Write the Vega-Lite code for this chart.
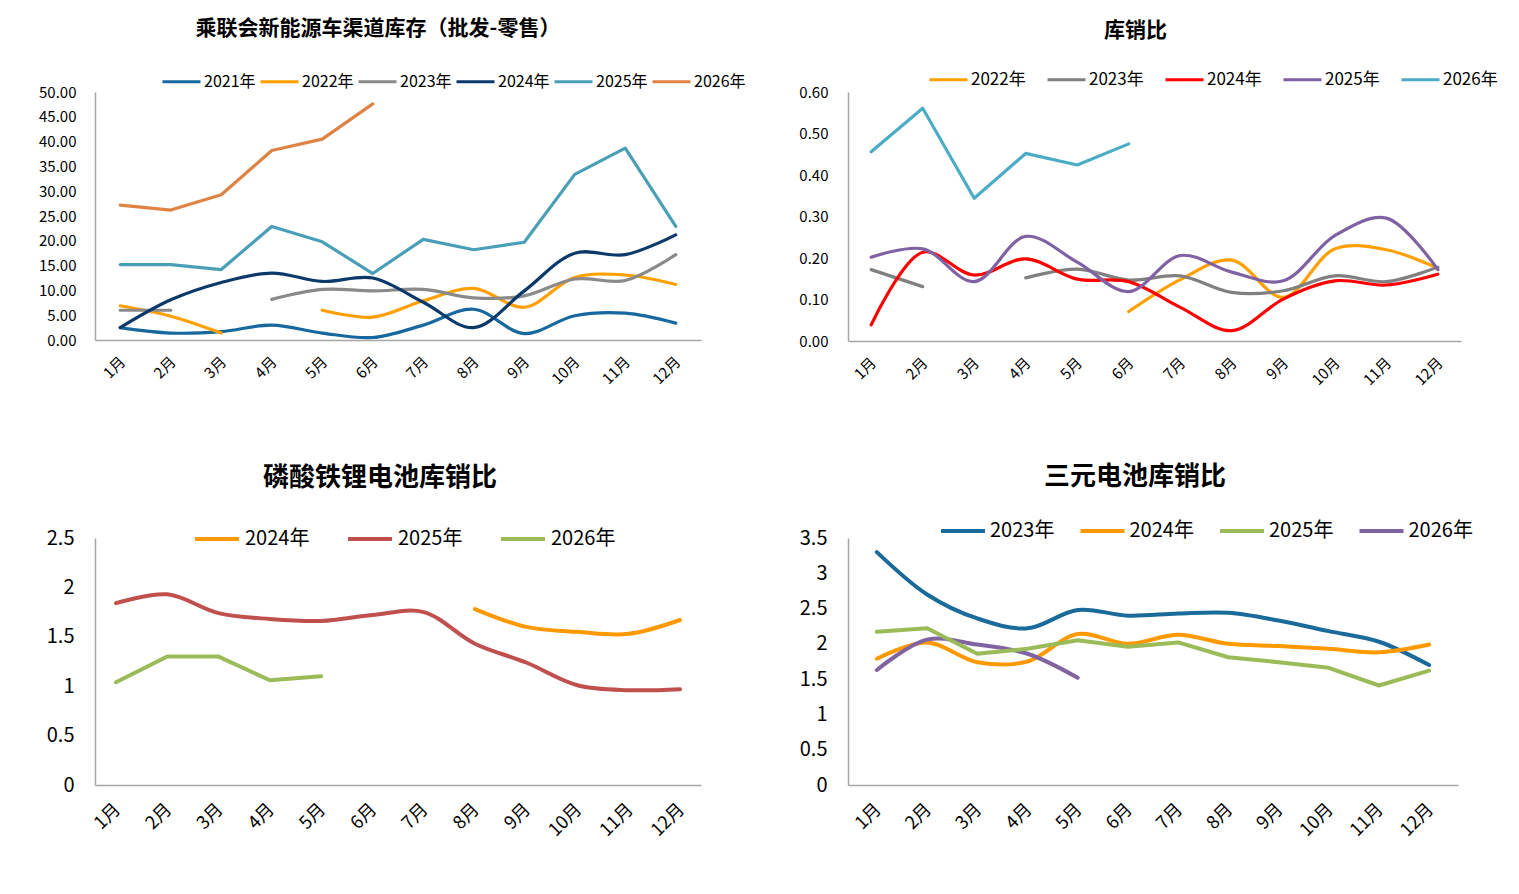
{
  "$schema": "https://vega.github.io/schema/vega-lite/v6.json",
  "background": "white",
  "padding": {"left": 38, "top": 18, "right": 10, "bottom": 10},
  "autosize": {"type": "pad"},
  "config": {
    "view": {"stroke": null},
    "font": "Noto Sans CJK SC",
    "axis": {"grid": false, "ticks": false, "domainColor": "#A6A6A6", "domainWidth": 1.5, "labelColor": "#000000", "title": null, "labelFont": "Noto Sans CJK SC"},
    "legend": {"labelFont": "Noto Sans CJK SC", "labelColor": "#000000", "padding": 0, "symbolType": "stroke", "title": null, "direction": "horizontal", "orient": "none"},
    "title": {"font": "Noto Sans CJK SC", "fontWeight": "bold", "color": "#000000", "anchor": "middle", "frame": "group"},
    "line": {"strokeCap": "round", "strokeJoin": "round"}
  },
  "datasets": {
    "p1": [
      {"m":"1月","y":"2021年","v":2.5,"s":"a"},{"m":"2月","y":"2021年","v":1.4,"s":"a"},{"m":"3月","y":"2021年","v":1.7,"s":"a"},{"m":"4月","y":"2021年","v":3.0,"s":"a"},{"m":"5月","y":"2021年","v":1.4,"s":"a"},{"m":"6月","y":"2021年","v":0.5,"s":"a"},{"m":"7月","y":"2021年","v":3.0,"s":"a"},{"m":"8月","y":"2021年","v":6.2,"s":"a"},{"m":"9月","y":"2021年","v":1.3,"s":"a"},{"m":"10月","y":"2021年","v":4.9,"s":"a"},{"m":"11月","y":"2021年","v":5.4,"s":"a"},{"m":"12月","y":"2021年","v":3.4,"s":"a"},
      {"m":"1月","y":"2022年","v":6.9,"s":"a"},{"m":"2月","y":"2022年","v":4.8,"s":"a"},{"m":"3月","y":"2022年","v":1.4,"s":"a"},{"m":"5月","y":"2022年","v":6.0,"s":"b"},{"m":"6月","y":"2022年","v":4.6,"s":"b"},{"m":"7月","y":"2022年","v":7.9,"s":"b"},{"m":"8月","y":"2022年","v":10.4,"s":"b"},{"m":"9月","y":"2022年","v":6.6,"s":"b"},{"m":"10月","y":"2022年","v":12.6,"s":"b"},{"m":"11月","y":"2022年","v":13.1,"s":"b"},{"m":"12月","y":"2022年","v":11.2,"s":"b"},
      {"m":"1月","y":"2023年","v":6.0,"s":"a"},{"m":"2月","y":"2023年","v":6.0,"s":"a"},{"m":"4月","y":"2023年","v":8.2,"s":"b"},{"m":"5月","y":"2023年","v":10.2,"s":"b"},{"m":"6月","y":"2023年","v":9.9,"s":"b"},{"m":"7月","y":"2023年","v":10.2,"s":"b"},{"m":"8月","y":"2023年","v":8.5,"s":"b"},{"m":"9月","y":"2023年","v":8.9,"s":"b"},{"m":"10月","y":"2023年","v":12.3,"s":"b"},{"m":"11月","y":"2023年","v":12.0,"s":"b"},{"m":"12月","y":"2023年","v":17.2,"s":"b"},
      {"m":"1月","y":"2024年","v":2.5,"s":"a"},{"m":"2月","y":"2024年","v":8.1,"s":"a"},{"m":"3月","y":"2024年","v":11.6,"s":"a"},{"m":"4月","y":"2024年","v":13.5,"s":"a"},{"m":"5月","y":"2024年","v":11.8,"s":"a"},{"m":"6月","y":"2024年","v":12.5,"s":"a"},{"m":"7月","y":"2024年","v":7.6,"s":"a"},{"m":"8月","y":"2024年","v":2.5,"s":"a"},{"m":"9月","y":"2024年","v":9.9,"s":"a"},{"m":"10月","y":"2024年","v":17.5,"s":"a"},{"m":"11月","y":"2024年","v":17.2,"s":"a"},{"m":"12月","y":"2024年","v":21.2,"s":"a"},
      {"m":"1月","y":"2025年","v":15.2,"s":"a"},{"m":"2月","y":"2025年","v":15.2,"s":"a"},{"m":"3月","y":"2025年","v":14.2,"s":"a"},{"m":"4月","y":"2025年","v":22.9,"s":"a"},{"m":"5月","y":"2025年","v":19.8,"s":"a"},{"m":"6月","y":"2025年","v":13.4,"s":"a"},{"m":"7月","y":"2025年","v":20.3,"s":"a"},{"m":"8月","y":"2025年","v":18.2,"s":"a"},{"m":"9月","y":"2025年","v":19.7,"s":"a"},{"m":"10月","y":"2025年","v":33.4,"s":"a"},{"m":"11月","y":"2025年","v":38.7,"s":"a"},{"m":"12月","y":"2025年","v":22.9,"s":"a"},
      {"m":"1月","y":"2026年","v":27.2,"s":"a"},{"m":"2月","y":"2026年","v":26.2,"s":"a"},{"m":"3月","y":"2026年","v":29.3,"s":"a"},{"m":"4月","y":"2026年","v":38.2,"s":"a"},{"m":"5月","y":"2026年","v":40.5,"s":"a"},{"m":"6月","y":"2026年","v":47.6,"s":"a"}
    ],
    "p2": [
      {"m":"6月","y":"2022年","v":0.071,"s":"a"},{"m":"7月","y":"2022年","v":0.148,"s":"a"},{"m":"8月","y":"2022年","v":0.195,"s":"a"},{"m":"9月","y":"2022年","v":0.105,"s":"a"},{"m":"10月","y":"2022年","v":0.222,"s":"a"},{"m":"11月","y":"2022年","v":0.22,"s":"a"},{"m":"12月","y":"2022年","v":0.175,"s":"a"},
      {"m":"1月","y":"2023年","v":0.172,"s":"a"},{"m":"2月","y":"2023年","v":0.131,"s":"a"},{"m":"4月","y":"2023年","v":0.152,"s":"b"},{"m":"5月","y":"2023年","v":0.173,"s":"b"},{"m":"6月","y":"2023年","v":0.147,"s":"b"},{"m":"7月","y":"2023年","v":0.157,"s":"b"},{"m":"8月","y":"2023年","v":0.117,"s":"b"},{"m":"9月","y":"2023年","v":0.121,"s":"b"},{"m":"10月","y":"2023年","v":0.157,"s":"b"},{"m":"11月","y":"2023年","v":0.143,"s":"b"},{"m":"12月","y":"2023年","v":0.178,"s":"b"},
      {"m":"1月","y":"2024年","v":0.039,"s":"a"},{"m":"2月","y":"2024年","v":0.214,"s":"a"},{"m":"3月","y":"2024年","v":0.159,"s":"a"},{"m":"4月","y":"2024年","v":0.198,"s":"a"},{"m":"5月","y":"2024年","v":0.149,"s":"a"},{"m":"6月","y":"2024年","v":0.143,"s":"a"},{"m":"7月","y":"2024年","v":0.081,"s":"a"},{"m":"8月","y":"2024年","v":0.025,"s":"a"},{"m":"9月","y":"2024年","v":0.101,"s":"a"},{"m":"10月","y":"2024年","v":0.145,"s":"a"},{"m":"11月","y":"2024年","v":0.135,"s":"a"},{"m":"12月","y":"2024年","v":0.161,"s":"a"},
      {"m":"1月","y":"2025年","v":0.202,"s":"a"},{"m":"2月","y":"2025年","v":0.222,"s":"a"},{"m":"3月","y":"2025年","v":0.143,"s":"a"},{"m":"4月","y":"2025年","v":0.252,"s":"a"},{"m":"5月","y":"2025年","v":0.19,"s":"a"},{"m":"6月","y":"2025年","v":0.119,"s":"a"},{"m":"7月","y":"2025年","v":0.206,"s":"a"},{"m":"8月","y":"2025年","v":0.166,"s":"a"},{"m":"9月","y":"2025年","v":0.145,"s":"a"},{"m":"10月","y":"2025年","v":0.254,"s":"a"},{"m":"11月","y":"2025年","v":0.296,"s":"a"},{"m":"12月","y":"2025年","v":0.172,"s":"a"},
      {"m":"1月","y":"2026年","v":0.456,"s":"a"},{"m":"2月","y":"2026年","v":0.561,"s":"a"},{"m":"3月","y":"2026年","v":0.344,"s":"a"},{"m":"4月","y":"2026年","v":0.452,"s":"a"},{"m":"5月","y":"2026年","v":0.424,"s":"a"},{"m":"6月","y":"2026年","v":0.475,"s":"a"}
    ],
    "p3": [
      {"m":"8月","y":"2024年","v":1.78,"s":"a"},{"m":"9月","y":"2024年","v":1.60,"s":"a"},{"m":"10月","y":"2024年","v":1.55,"s":"a"},{"m":"11月","y":"2024年","v":1.53,"s":"a"},{"m":"12月","y":"2024年","v":1.67,"s":"a"},
      {"m":"1月","y":"2025年","v":1.84,"s":"a"},{"m":"2月","y":"2025年","v":1.93,"s":"a"},{"m":"3月","y":"2025年","v":1.74,"s":"a"},{"m":"4月","y":"2025年","v":1.68,"s":"a"},{"m":"5月","y":"2025年","v":1.66,"s":"a"},{"m":"6月","y":"2025年","v":1.72,"s":"a"},{"m":"7月","y":"2025年","v":1.75,"s":"a"},{"m":"8月","y":"2025年","v":1.43,"s":"a"},{"m":"9月","y":"2025年","v":1.24,"s":"a"},{"m":"10月","y":"2025年","v":1.01,"s":"a"},{"m":"11月","y":"2025年","v":0.96,"s":"a"},{"m":"12月","y":"2025年","v":0.97,"s":"a"},
      {"m":"1月","y":"2026年","v":1.04,"s":"a"},{"m":"2月","y":"2026年","v":1.30,"s":"a"},{"m":"3月","y":"2026年","v":1.30,"s":"a"},{"m":"4月","y":"2026年","v":1.06,"s":"a"},{"m":"5月","y":"2026年","v":1.10,"s":"a"}
    ],
    "p4": [
      {"m":"1月","y":"2023年","v":3.30,"s":"a"},{"m":"2月","y":"2023年","v":2.70,"s":"a"},{"m":"3月","y":"2023年","v":2.36,"s":"a"},{"m":"4月","y":"2023年","v":2.22,"s":"a"},{"m":"5月","y":"2023年","v":2.48,"s":"a"},{"m":"6月","y":"2023年","v":2.40,"s":"a"},{"m":"7月","y":"2023年","v":2.43,"s":"a"},{"m":"8月","y":"2023年","v":2.44,"s":"a"},{"m":"9月","y":"2023年","v":2.33,"s":"a"},{"m":"10月","y":"2023年","v":2.18,"s":"a"},{"m":"11月","y":"2023年","v":2.03,"s":"a"},{"m":"12月","y":"2023年","v":1.70,"s":"a"},
      {"m":"1月","y":"2024年","v":1.79,"s":"a"},{"m":"2月","y":"2024年","v":2.02,"s":"a"},{"m":"3月","y":"2024年","v":1.74,"s":"a"},{"m":"4月","y":"2024年","v":1.75,"s":"a"},{"m":"5月","y":"2024年","v":2.14,"s":"a"},{"m":"6月","y":"2024年","v":2.00,"s":"a"},{"m":"7月","y":"2024年","v":2.13,"s":"a"},{"m":"8月","y":"2024年","v":2.00,"s":"a"},{"m":"9月","y":"2024年","v":1.97,"s":"a"},{"m":"10月","y":"2024年","v":1.93,"s":"a"},{"m":"11月","y":"2024年","v":1.88,"s":"a"},{"m":"12月","y":"2024年","v":1.99,"s":"a"},
      {"m":"1月","y":"2025年","v":2.17,"s":"a"},{"m":"2月","y":"2025年","v":2.22,"s":"a"},{"m":"3月","y":"2025年","v":1.86,"s":"a"},{"m":"4月","y":"2025年","v":1.93,"s":"a"},{"m":"5月","y":"2025年","v":2.05,"s":"a"},{"m":"6月","y":"2025年","v":1.96,"s":"a"},{"m":"7月","y":"2025年","v":2.02,"s":"a"},{"m":"8月","y":"2025年","v":1.81,"s":"a"},{"m":"9月","y":"2025年","v":1.74,"s":"a"},{"m":"10月","y":"2025年","v":1.66,"s":"a"},{"m":"11月","y":"2025年","v":1.41,"s":"a"},{"m":"12月","y":"2025年","v":1.62,"s":"a"},
      {"m":"1月","y":"2026年","v":1.63,"s":"a"},{"m":"2月","y":"2026年","v":2.06,"s":"a"},{"m":"3月","y":"2026年","v":1.99,"s":"a"},{"m":"4月","y":"2026年","v":1.86,"s":"a"},{"m":"5月","y":"2026年","v":1.52,"s":"a"}
    ]
  },
  "columns": 2,
  "bounds": "flush",
  "align": "none",
  "spacing": {"row": 197, "column": 147},
  "resolve": {"scale": {"x": "independent", "y": "independent", "color": "independent"}, "legend": {"color": "independent"}},
  "concat": [
    {
      "width": 606, "height": 248,
      "title": {"text": "乘联会新能源车渠道库存（批发-零售）", "fontSize": 21, "dx": -20, "offset": 22},
      "data": {"name": "p1"},
      "encoding": {
        "x": {"field": "m", "type": "ordinal", "scale": {"type": "point", "padding": 0.5, "domain": ["1月","2月","3月","4月","5月","6月","7月","8月","9月","10月","11月","12月"]}, "axis": {"labelAngle": -45, "labelFontSize": 15, "labelPadding": 14, "labelOffset": -3}},
        "y": {"field": "v", "type": "quantitative", "scale": {"domain": [0, 50], "nice": false}, "axis": {"values": [0,5,10,15,20,25,30,35,40,45,50], "format": ".2f", "labelFontSize": 15, "labelPadding": 19}},
        "color": {"field": "y", "type": "nominal", "scale": {"domain": ["2021年","2022年","2023年","2024年","2025年","2026年"], "range": ["#17689E","#FFA000","#8A8A8A","#0B3A6A","#4A9FB8","#DE8344"]}, "legend": {"legendX": 66, "legendY": -31, "labelFontSize": 16, "symbolSize": 1444, "symbolStrokeWidth": 3, "columnPadding": 3, "labelOffset": 2}},
        "detail": {"field": "s"}
      },
      "layer": [
        {"transform": [{"filter": {"field": "y", "oneOf": ["2021年","2022年","2023年","2024年"]}}], "mark": {"type": "line", "interpolate": "catmull-rom", "strokeWidth": 3.2}},
        {"transform": [{"filter": {"field": "y", "oneOf": ["2025年","2026年"]}}], "mark": {"type": "line", "strokeWidth": 3.2}}
      ]
    },
    {
      "width": 613, "height": 249,
      "title": {"text": "库销比", "fontSize": 21, "dx": -19, "offset": 18},
      "data": {"name": "p2"},
      "encoding": {
        "x": {"field": "m", "type": "ordinal", "scale": {"type": "point", "padding": 0.45, "domain": ["1月","2月","3月","4月","5月","6月","7月","8月","9月","10月","11月","12月"]}, "axis": {"labelAngle": -45, "labelFontSize": 15, "labelPadding": 14, "labelOffset": -3}},
        "y": {"field": "v", "type": "quantitative", "scale": {"domain": [0, 0.6], "nice": false}, "axis": {"values": [0,0.1,0.2,0.3,0.4,0.5,0.6], "format": ".2f", "labelFontSize": 15, "labelPadding": 20}},
        "color": {"field": "y", "type": "nominal", "scale": {"domain": ["2022年","2023年","2024年","2025年","2026年"], "range": ["#FFA000","#808080","#FF0000","#7F62A3","#4BACC6"]}, "legend": {"legendX": 80, "legendY": -33, "labelFontSize": 17, "symbolSize": 1444, "symbolStrokeWidth": 3, "columnPadding": 20, "labelOffset": 2}},
        "detail": {"field": "s"}
      },
      "layer": [
        {"transform": [{"filter": {"field": "y", "oneOf": ["2022年","2023年","2024年","2025年"]}}], "mark": {"type": "line", "interpolate": "catmull-rom", "strokeWidth": 3.2}},
        {"transform": [{"filter": {"field": "y", "oneOf": ["2026年"]}}], "mark": {"type": "line", "strokeWidth": 3.2}}
      ]
    },
    {
      "width": 606, "height": 247,
      "title": {"text": "磷酸铁锂电池库销比", "fontSize": 26, "dx": -18, "offset": 24},
      "data": {"name": "p3"},
      "encoding": {
        "x": {"field": "m", "type": "ordinal", "scale": {"type": "point", "padding": 0.41, "domain": ["1月","2月","3月","4月","5月","6月","7月","8月","9月","10月","11月","12月"]}, "axis": {"labelAngle": -45, "labelFontSize": 18, "labelPadding": 15, "labelOffset": -5}},
        "y": {"field": "v", "type": "quantitative", "scale": {"domain": [0, 2.5], "nice": false}, "axis": {"values": [0,0.5,1,1.5,2,2.5], "format": "~g", "labelFontSize": 20, "labelPadding": 21}},
        "color": {"field": "y", "type": "nominal", "scale": {"domain": ["2024年","2025年","2026年"], "range": ["#FF9900","#C0504D","#9BBB59"]}, "legend": {"legendX": 98, "legendY": -23, "labelFontSize": 20, "symbolSize": 1936, "symbolStrokeWidth": 4, "columnPadding": 36, "labelOffset": 4}},
        "detail": {"field": "s"}
      },
      "layer": [
        {"transform": [{"filter": {"field": "y", "oneOf": ["2024年","2025年"]}}], "mark": {"type": "line", "interpolate": "catmull-rom", "strokeWidth": 4}},
        {"transform": [{"filter": {"field": "y", "oneOf": ["2026年"]}}], "mark": {"type": "line", "strokeWidth": 4}}
      ]
    },
    {
      "width": 610, "height": 247,
      "title": {"text": "三元电池库销比", "fontSize": 26, "dx": -18, "offset": 17},
      "data": {"name": "p4"},
      "encoding": {
        "x": {"field": "m", "type": "ordinal", "scale": {"type": "point", "padding": 0.575, "domain": ["1月","2月","3月","4月","5月","6月","7月","8月","9月","10月","11月","12月"]}, "axis": {"labelAngle": -45, "labelFontSize": 18, "labelPadding": 15, "labelOffset": -5}},
        "y": {"field": "v", "type": "quantitative", "scale": {"domain": [0, 3.5], "nice": false}, "axis": {"values": [0,0.5,1,1.5,2,2.5,3,3.5], "format": "~g", "labelFontSize": 20, "labelPadding": 21}},
        "color": {"field": "y", "type": "nominal", "scale": {"domain": ["2023年","2024年","2025年","2026年"], "range": ["#1A6A9A","#FF9900","#9BBB59","#8064A2"]}, "legend": {"legendX": 91, "legendY": -31, "labelFontSize": 20, "symbolSize": 1936, "symbolStrokeWidth": 4, "columnPadding": 23.5, "labelOffset": 3}},
        "detail": {"field": "s"}
      },
      "layer": [
        {"transform": [{"filter": {"field": "y", "oneOf": ["2023年","2024年","2026年"]}}], "mark": {"type": "line", "interpolate": "catmull-rom", "strokeWidth": 4}},
        {"transform": [{"filter": {"field": "y", "oneOf": ["2025年"]}}], "mark": {"type": "line", "strokeWidth": 4}}
      ]
    }
  ]
}
